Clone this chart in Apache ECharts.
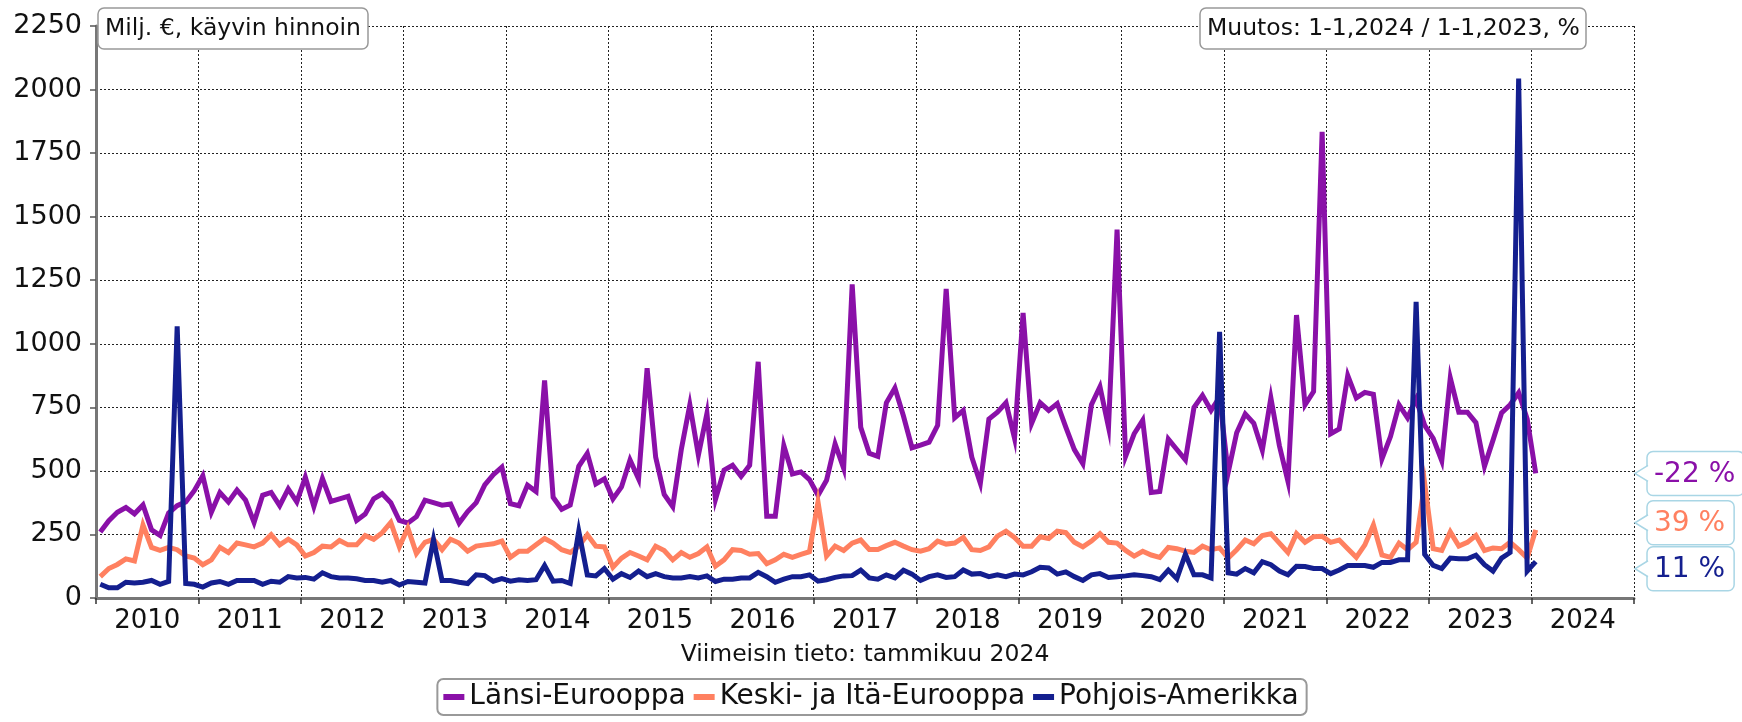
<!DOCTYPE html>
<html>
<head>
<meta charset="utf-8">
<script src="https://cdn.jsdelivr.net/npm/echarts@6/dist/echarts.min.js"></script>
<style>
html, body { margin: 0; padding: 0; background: #fff; }
#chart { width: 1742px; height: 722px; }
</style>
</head>
<body>
<div id="chart"></div>
<script>
// ---- Data (monthly, Jan 2010 .. Jan 2024), Milj. € ----
const startYear = 2010;
const seriesNames = ['Länsi-Eurooppa', 'Keski- ja Itä-Eurooppa', 'Pohjois-Amerikka'];

const lansiEurooppa = [
  260, 304, 337, 356, 331, 366, 268, 246, 334, 363, 378, 422,
  481, 337, 415, 378, 425, 385, 297, 404, 415, 363, 429, 378,
  475, 360, 470, 380, 390, 400, 305, 330, 390, 410, 375, 305,
  295, 320, 385, 375, 365, 370, 295, 340, 375, 445, 485, 515,
  371, 363, 444, 419, 856, 396, 349, 366, 518, 569, 449, 469,
  390, 437, 543, 469, 904, 554, 407, 359, 584, 760, 562, 726,
  388, 503, 522, 478, 522, 929, 322, 322, 599, 488, 496, 466,
  404, 463, 606, 510, 1234, 672, 569, 557, 768, 826, 716, 591,
  601, 613, 679, 1216, 709, 738, 554, 451, 704, 731, 768, 628,
  1121, 687, 768, 738, 765, 672, 584, 528, 760, 831, 672, 1449,
  557, 646, 699, 415, 419, 625, 584, 543, 749, 797, 738, 790,
  493, 650, 724, 687, 581, 787, 599, 459, 1113, 760, 812, 1834,
  646, 665, 875, 787, 809, 801, 547, 635, 760, 709, 782, 679,
  628, 540, 866, 731, 731, 690, 518, 621, 728, 760, 807, 704,
  490
];

const keskiItaEurooppa = [
  84, 116, 132, 154, 146, 287, 199, 187, 199, 190, 165, 157,
  131, 150, 199, 179, 216, 209, 201, 216, 249, 209, 231, 209,
  165, 179, 204, 201, 226, 209, 209, 246, 231, 257, 297, 201,
  275, 175, 219, 231, 190, 231, 216, 184, 204, 209, 213, 224,
  160, 184, 184, 209, 234, 216, 190, 179, 204, 249, 204, 201,
  121, 157, 179, 165, 150, 204, 187, 150, 179, 160, 175, 201,
  125, 150, 190, 187, 172, 175, 135, 150, 172, 160, 172, 182,
  378, 165, 204, 187, 216, 228, 191, 191, 206, 219, 204, 190,
  184, 194, 224, 212, 216, 238, 190, 187, 201, 243, 263, 238,
  204, 204, 241, 234, 263, 257, 219, 201, 224, 253, 219, 216,
  187, 165, 184, 169, 160, 199, 194, 184, 179, 204, 190, 197,
  157, 190, 228, 213, 246, 253, 216, 179, 253, 219, 241, 243,
  219, 228, 194, 160, 209, 287, 169, 160, 216, 190, 219, 451,
  194, 187, 260, 204, 219, 246, 187, 197, 194, 219, 190, 157,
  268
];

const pohjoisAmerikka = [
  54, 40, 40, 62, 59, 62, 69, 54, 65, 1069, 57, 54,
  43, 59, 65, 54, 69, 69, 69, 54, 66, 62, 84, 79,
  81, 74, 99, 84, 79, 79, 76, 69, 69, 62, 69, 51,
  65, 62, 59, 230, 69, 69, 62, 57, 91, 88, 66, 76,
  66, 72, 69, 72, 128, 66, 69, 57, 263, 91, 87, 116,
  74, 96, 81, 106, 84, 96, 84, 79, 79, 84, 79, 87,
  65, 74, 74, 79, 79, 101, 84, 62, 74, 84, 84, 91,
  66, 72, 81, 87, 88, 110, 79, 74, 91, 79, 109, 94,
  69, 84, 91, 81, 84, 110, 94, 96, 84, 91, 84, 94,
  91, 103, 121, 118, 94, 103, 84, 69, 91, 96, 81, 84,
  87, 91, 88, 84, 72, 110, 76, 172, 91, 91, 79, 1047,
  99, 94, 116, 99, 143, 131, 106, 91, 125, 124, 116, 116,
  96, 110, 128, 128, 128, 121, 140, 140, 150, 150, 1165, 172,
  128, 116, 157, 154, 154, 168, 131, 106, 157, 179, 2043, 106,
  143
];

const changeLabels = ['-22 %', '39 %', '11 %'];
const yMin = 0, yMax = 2250, yStep = 250;
const monthsOnAxis = 180; // 2010-01 .. 2024-12

const unitText = 'Milj. €, käyvin hinnoin';
const changeTitle = 'Muutos: 1-1,2024 / 1-1,2023, %';
const latestText = 'Viimeisin tieto: tammikuu 2024';

// ---- Styles ----
const FONT = '"DejaVu Sans", Verdana, sans-serif';
const colors = ['#8a10a8', '#ff8060', '#141f8f'];
const allSeries = [lansiEurooppa, keskiItaEurooppa, pohjoisAmerikka];

function toPoints(arr) { return arr.map((v, i) => [i + 0.5, v]); }

const chart = echarts.init(document.getElementById('chart'), null, { renderer: 'canvas' });

const boxTitle = (text, left) => ({
  text, left, top: 8,
  padding: [7, 7], backgroundColor: '#fff', borderColor: '#999', borderWidth: 1.5, borderRadius: 6,
  textStyle: { fontFamily: FONT, fontSize: 23.5, fontWeight: 'normal', color: '#111', lineHeight: 27 }
});

const option = {
  animation: false,
  backgroundColor: '#fff',
  textStyle: { fontFamily: FONT },
  grid: { left: 96, right: 108, top: 26, bottom: 124, containLabel: false },
  title: [boxTitle(unitText, 98), boxTitle(changeTitle, 1200)],
  legend: {
    data: seriesNames,
    left: 'center', top: 679,
    icon: 'rect', itemWidth: 21, itemHeight: 6, itemGap: 8,
    padding: [4, 8, 4, 6],
    borderColor: '#999', borderWidth: 2, borderRadius: 6,
    textStyle: { fontFamily: FONT, fontSize: 28, color: '#111' }
  },
  xAxis: [
    {
      type: 'value', min: 0, max: monthsOnAxis, interval: 12, position: 'bottom',
      axisLine: { show: true, lineStyle: { color: '#777', width: 3 } },
      axisTick: { show: true, length: 6, lineStyle: { color: '#333', width: 1.5 } },
      axisLabel: { show: false },
      splitLine: { show: true, lineStyle: { color: '#222', width: 1, type: [2, 2] } }
    },
    {
      type: 'value', min: 0, max: monthsOnAxis, interval: 6, position: 'bottom',
      axisLine: { show: false }, axisTick: { show: false }, splitLine: { show: false },
      axisLabel: {
        show: true, margin: 10, fontSize: 26, color: '#111', fontFamily: FONT,
        formatter: v => (v % 12 === 6 ? String(startYear + (v - 6) / 12) : '')
      },
      name: latestText, nameLocation: 'middle', nameGap: 45,
      nameTextStyle: { fontFamily: FONT, fontSize: 23.5, color: '#111' }
    }
  ],
  yAxis: {
    type: 'value', min: yMin, max: yMax, interval: yStep,
    axisLine: { show: true, lineStyle: { color: '#777', width: 3 } },
    axisTick: { show: true, length: 6, lineStyle: { color: '#555', width: 1.5 } },
    axisLabel: { fontSize: 27, color: '#111', margin: 14, fontFamily: FONT, formatter: v => String(v) },
    splitLine: { show: true, lineStyle: { color: '#222', width: 1, type: [2, 2] } }
  },
  series: seriesNames.map((name, k) => ({
    name, type: 'line', xAxisIndex: 0, yAxisIndex: 0,
    data: toPoints(allSeries[k]),
    symbol: 'none', showSymbol: false,
    color: colors[k],
    lineStyle: { color: colors[k], width: 5, join: 'miter' },
    z: 3 + k
  }))
};

chart.setOption(option);

// ---- Change callouts at the right edge of the plot ----
(function addCallouts() {
  const gridRight = chart.convertToPixel({ xAxisIndex: 0 }, monthsOnAxis);
  const lastVals = allSeries.map(a => a[a.length - 1]);
  const ys = lastVals.map(v => chart.convertToPixel({ yAxisIndex: 0 }, v));
  const H = 44, GAP = 2;
  const order = [0, 1, 2].sort((a, b) => ys[a] - ys[b]);
  const pos = order.map(i => ys[i]);
  for (let it = 0; it < 60; it++) {
    for (let k = 1; k < pos.length; k++) {
      const d = pos[k] - pos[k - 1];
      if (d < H + GAP) { const s = (H + GAP - d) / 2; pos[k - 1] -= s; pos[k] += s; }
    }
  }
  const ctx = document.createElement('canvas').getContext('2d');
  const calloutFont = '28px ' + FONT;
  ctx.font = calloutFont;
  const border = '#a9d6e5';
  const elements = order.map((si, k) => {
    const text = changeLabels[si];
    const w = ctx.measureText(text).width + 16;
    return {
      type: 'group', x: gridRight, y: pos[k], z: 100,
      children: [
        { type: 'rect', shape: { x: 13, y: -H / 2, width: w, height: H, r: 6 },
          style: { fill: '#fff', stroke: border, lineWidth: 1.5 } },
        { type: 'polygon', shape: { points: [[1, 0], [15, -8], [15, 8]] }, style: { fill: '#fff' } },
        { type: 'polyline', shape: { points: [[14, -8], [1, 0], [14, 8]] },
          style: { stroke: border, lineWidth: 1.5, fill: null } },
        { type: 'text', x: 20, y: 1,
          style: { text, font: calloutFont, fill: colors[si], verticalAlign: 'middle', align: 'left' } }
      ]
    };
  });
  chart.setOption({ graphic: elements });
})();
</script>
</body>
</html>
